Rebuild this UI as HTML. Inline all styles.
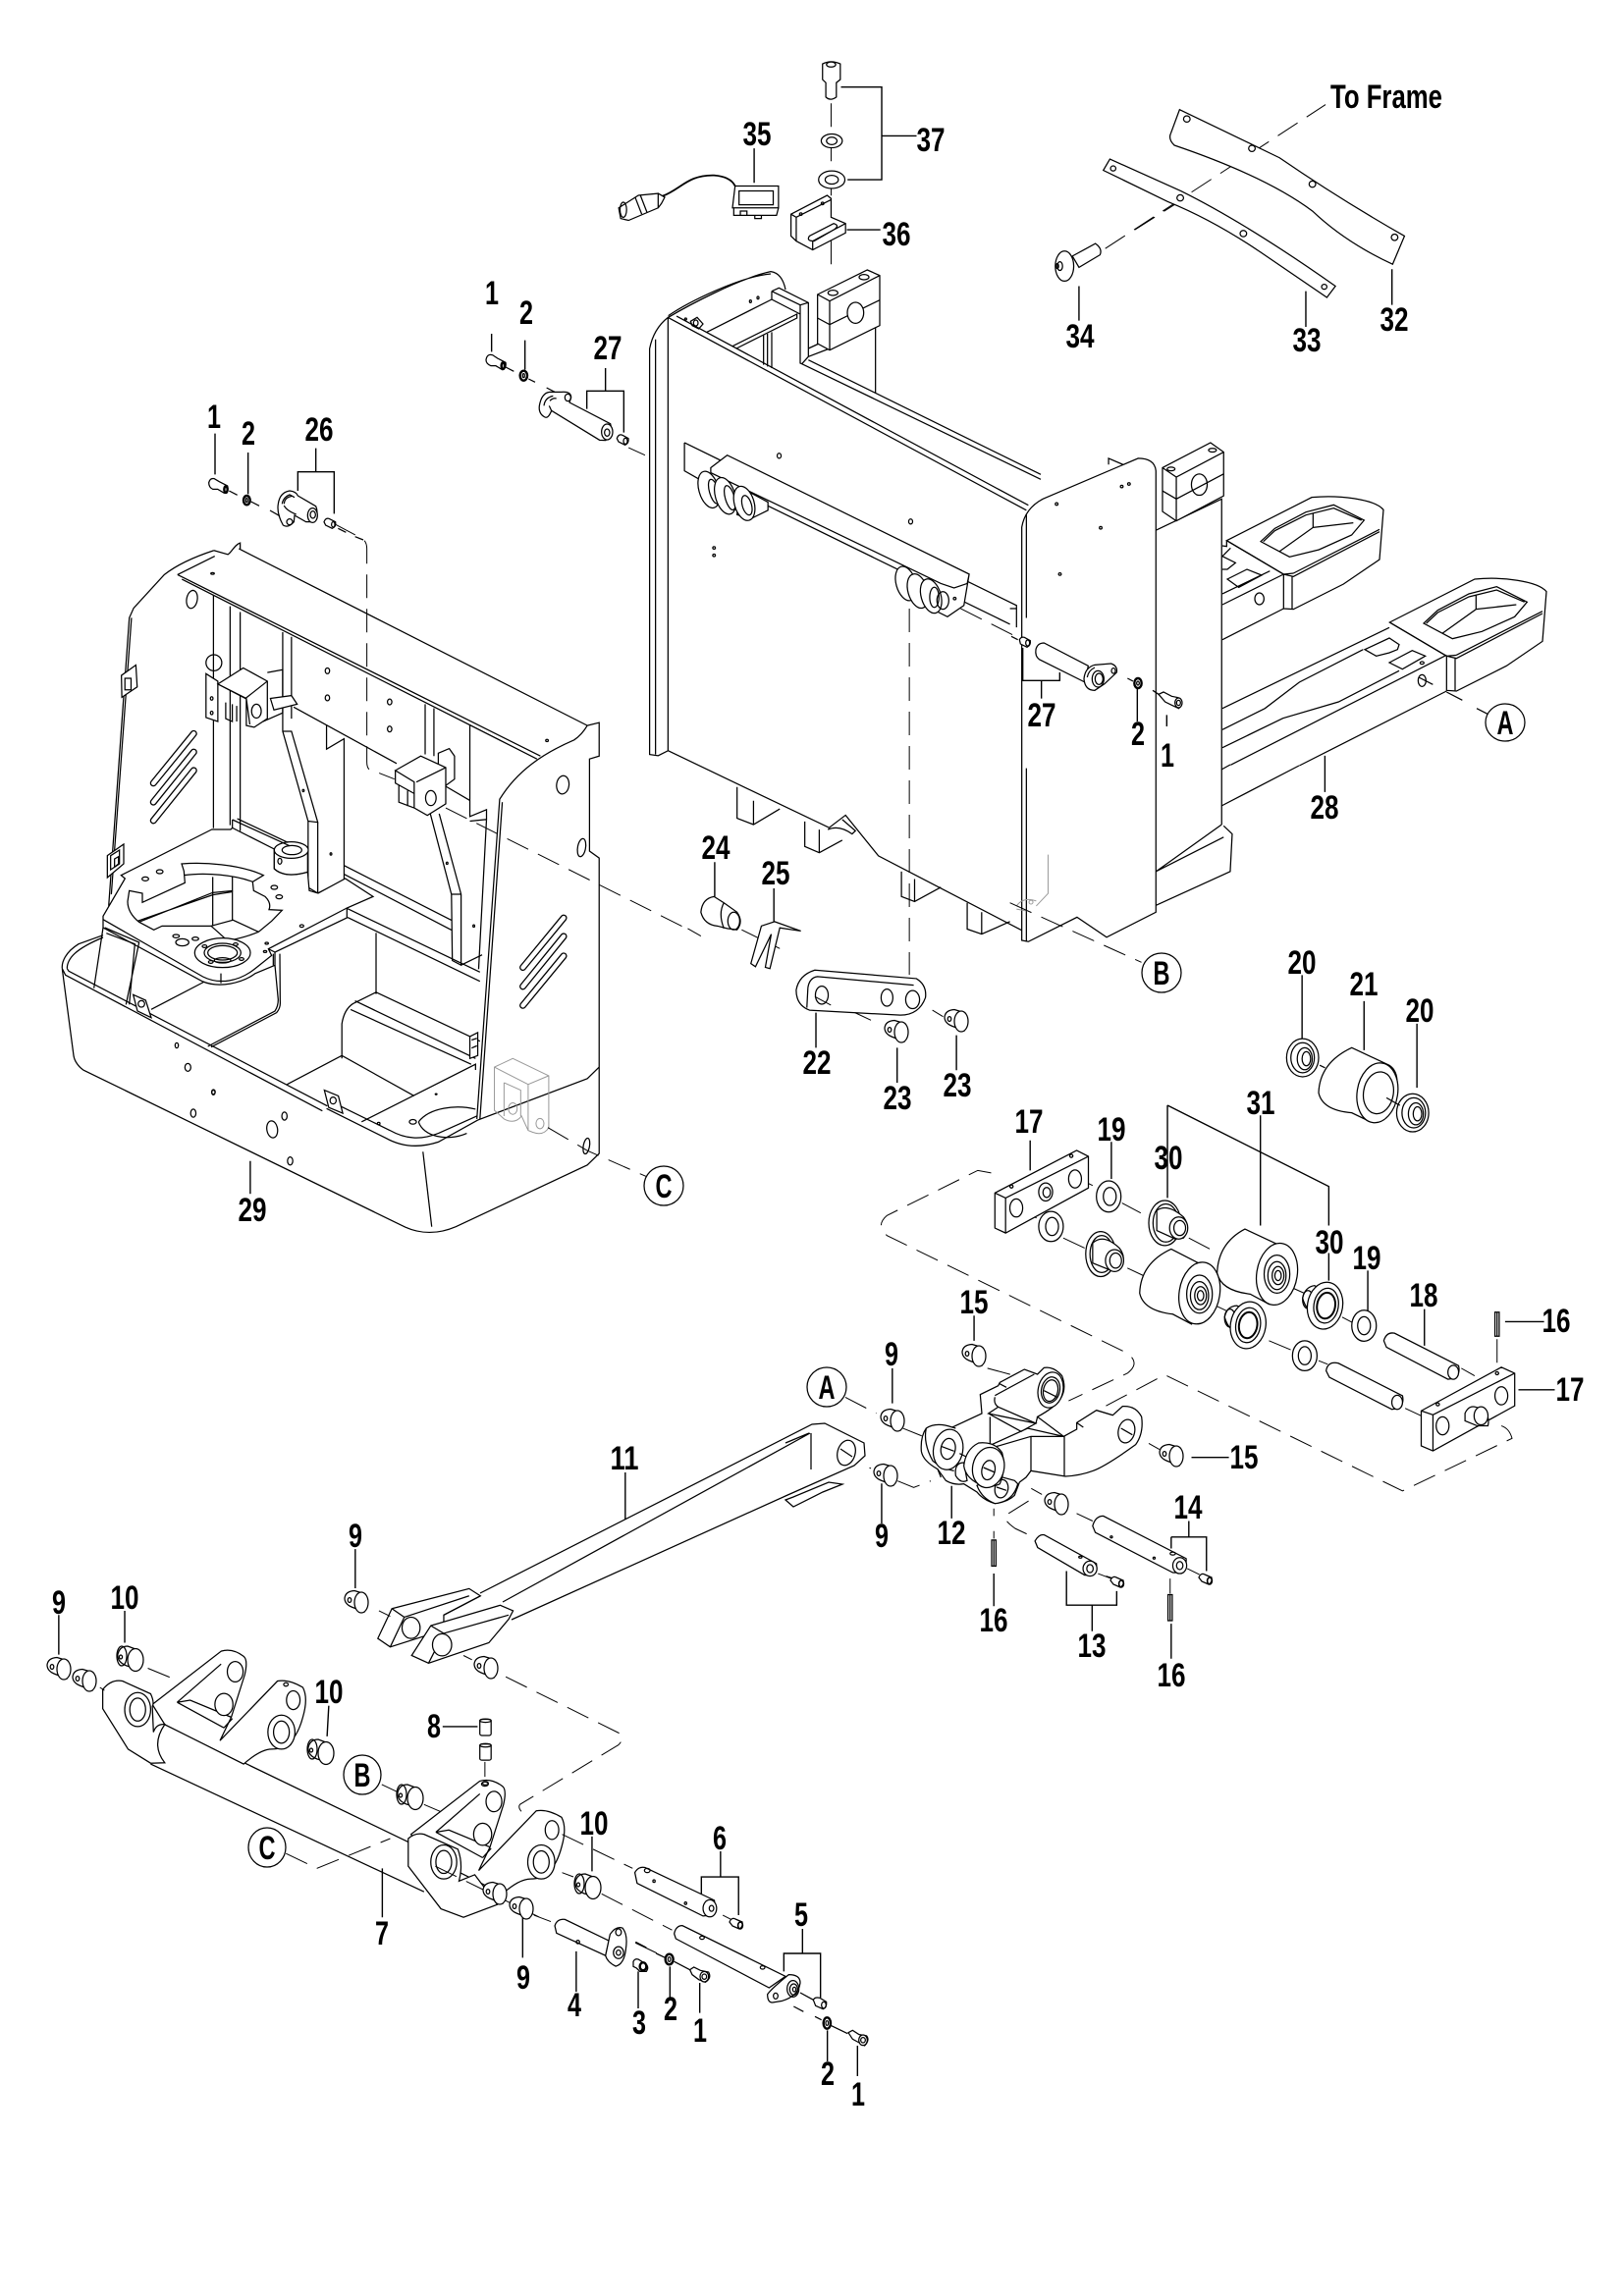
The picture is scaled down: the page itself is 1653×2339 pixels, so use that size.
<!DOCTYPE html>
<html><head><meta charset="utf-8"><title>Exploded parts diagram</title>
<style>
html,body{margin:0;padding:0;background:#fff}
svg{display:block}
svg *{vector-effect:non-scaling-stroke}
svg path,svg ellipse,svg line,svg rect{fill:none;stroke:#000;stroke-width:1.25}
svg .w{fill:#fff}
svg .d{stroke-dasharray:24 11;stroke-width:1}
svg .l{stroke-width:1.4}
svg .g{stroke:#999;stroke-width:1}
svg .t{stroke-width:2.4}
svg .s1{stroke:#000;stroke-width:7;stroke-linecap:round}
svg .s2{stroke:#fff;stroke-width:4.4;stroke-linecap:round}
text{font-family:"Liberation Sans Narrow","Liberation Sans",sans-serif;font-size:34px;font-weight:700;fill:#000;text-anchor:middle}
</style></head><body>
<svg xmlns="http://www.w3.org/2000/svg" width="1653" height="2339" viewBox="0 0 1653 2339">
<defs>
<g id="bush"><path class="w" d="M-2 -10.5 L8 -7.5 L8 11 L0 8 L-5 6 Q-12 3 -12 -3 Q-11 -10 -2 -10.5Z"/><ellipse class="w" cx="5" cy="1.5" rx="7" ry="10.5"/><ellipse cx="-7" cy="-1" rx="1.8" ry="2.4"/></g>
<g id="fbush"><path class="w" d="M-2 -12 L9 -8 L8 11 L-3 8 Q-13 4 -12 -4 Q-10 -12 -2 -12Z"/><ellipse cx="-8" cy="-2" rx="5" ry="10"/><ellipse class="w" cx="6" cy="2" rx="8" ry="11.5"/><ellipse cx="-9" cy="-1" rx="1.6" ry="2"/></g>
<g id="rscr"><path class="w" d="M-7 -2 Q-5 -7 -1 -5 L6 -2 Q7 3 3 5 L-4 2Z"/><ellipse cx="4" cy="1.5" rx="2.4" ry="3.4" style="stroke-width:1.6"/></g>
</defs>

<!-- Left frame upper/right -->
<g transform="translate(0,380) scale(.4464,.5868)">
<path d="M745 1277 L880 1328 C920 1345 960 1345 1000 1335 L1090 1297 L1340 1225 L1367 1205"/>
<path d="M745 1261 L890 1315 C925 1330 960 1332 1000 1320 L1088 1290"/>
<path d="M142 1035 L168 1185 C170 1195 180 1205 190 1210 L925 1483 C960 1495 1000 1495 1040 1482 L1340 1375 L1367 1355 L1367 1205"/>
<path d="M965 1352 L985 1482"/>
<path d="M405 350 L1233 665 M545 305 L1340 612 M405 350 L490 318 M415 358 L1225 670"/>
<path d="M488 308 L520 315 C530 310 535 298 548 295 L548 305 M488 308 C440 320 400 335 375 350 L305 408 L295 425 L248 925 M300 425 L254 905"/>
<path d="M1340 612 L1367 607 L1367 665 L1345 670 L1345 830 L1367 842 L1367 1205 M1340 612 C1330 625 1320 632 1310 637 C1240 660 1180 690 1140 740 L1088 1295 M1146 745 L1095 1295"/>
<path d="M487 385 L487 790 M525 405 L525 785 M548 415 L548 795"/>
<path d="M645 450 L645 622 L703 778 L703 893 L725 903 L785 880 L785 635 L745 653 L745 612 M665 458 L665 600 M645 622 L665 622 L725 780 L703 778 M725 780 L725 903"/>
<path d="M670 580 L905 678 M1000 710 L1072 742"/>
<path d="M970 575 L970 662 M990 582 L990 665 M1072 610 L1072 770 L1110 758 L1110 775 L1072 778 M1110 775 L1092 1035"/>
<path d="M980 760 L1030 905 L1032 1020 L1052 1028 L1052 905 L1002 765 M1030 905 L1052 905 M1052 1028 L1100 1010"/>
<path d="M785 855 L1030 950 M785 870 L1030 967 M793 930 L1095 1040 M793 945 L1095 1056 M858 972 L858 1078"/>
<path d="M655 1235 L780 1185 L945 1255 M825 1300 L1085 1200 L1085 1210 M1085 1190 L810 1090 M780 1190 L780 1130 Q785 1105 805 1095 L858 1075 L1095 1160 M800 1105 L1075 1200"/>
<path class="w" d="M740 1245 L772 1255 L782 1285 L750 1275Z"/><ellipse cx="760" cy="1263" rx="7" ry="6"/>
<path class="w" d="M1072 1152 L1090 1145 L1090 1185 L1072 1190Z"/><path d="M1076 1158 L1088 1155 M1076 1172 L1088 1168"/>
<path class="w" d="M277 525 L310 507 L313 545 L278 563Z"/><rect x="285" y="530" width="14" height="20"/>
<ellipse cx="438" cy="393" rx="12" ry="16" transform="rotate(20 438 393)"/><ellipse cx="488" cy="503" rx="18" ry="14"/><ellipse cx="485" cy="348" rx="4" ry="1.5"/>
<ellipse cx="1284" cy="715" rx="14" ry="16" transform="rotate(20 1284 715)"/><ellipse cx="1327" cy="824" rx="9" ry="16" transform="rotate(15 1327 824)"/><ellipse cx="1248" cy="638" rx="3" ry="2"/>
<ellipse cx="747" cy="517" rx="5" ry="5"/><ellipse cx="747" cy="564" rx="5" ry="5"/><ellipse cx="889" cy="571" rx="5" ry="5"/><ellipse cx="889" cy="618" rx="5" ry="5"/><ellipse cx="692" cy="725" rx="2" ry="2"/><ellipse cx="755" cy="835" rx="2" ry="2"/><ellipse cx="1020" cy="851" rx="2" ry="2"/><ellipse cx="1081" cy="960" rx="2" ry="2"/>
<line class="s1" x1="350" y1="712" x2="442" y2="626"/><line class="s2" x1="350" y1="712" x2="442" y2="626"/>
<line class="s1" x1="350" y1="745" x2="442" y2="658"/><line class="s2" x1="350" y1="745" x2="442" y2="658"/>
<line class="s1" x1="350" y1="777" x2="442" y2="690"/><line class="s2" x1="350" y1="777" x2="442" y2="690"/>
<line class="s1" x1="1193" y1="1032" x2="1286" y2="946"/><line class="s2" x1="1193" y1="1032" x2="1286" y2="946"/>
<line class="s1" x1="1193" y1="1065" x2="1286" y2="978"/><line class="s2" x1="1193" y1="1065" x2="1286" y2="978"/>
<line class="s1" x1="1193" y1="1098" x2="1286" y2="1012"/><line class="s2" x1="1193" y1="1098" x2="1286" y2="1012"/>
<path class="w" d="M470 522 L497 535 L497 605 L470 598Z"/><ellipse cx="483" cy="565" rx="3" ry="3"/><ellipse cx="483" cy="590" rx="3" ry="3"/>
<path class="w" d="M497 540 L555 512 L610 535 L610 600 L580 615 L562 612 L562 565Z"/><path d="M497 540 L560 565 L610 535 M562 565 L570 610 M515 572 L515 600 L530 605 L530 575 M540 578 L540 605 M610 520 L645 515 L645 590 L600 605"/><ellipse cx="585" cy="587" rx="11" ry="12"/>
<path class="w" d="M617 565 L665 560 L678 575 L625 585Z"/>
<path class="w" d="M1000 660 L1025 652 L1037 665 L1037 705 L1010 720 L1000 700Z"/>
<path class="w" d="M902 690 L960 665 L1017 685 L1017 748 L975 768 L945 755 L945 710Z"/><path d="M902 690 L902 712 L945 730 M950 710 L1017 685 M910 715 L910 745 L945 755 M930 725 L930 752"/><ellipse cx="983" cy="738" rx="12" ry="13"/>
<path class="g" d="M1128 1205 L1170 1190 L1252 1220 L1252 1310 Q1240 1325 1215 1318 L1205 1315 L1190 1290 Q1175 1305 1150 1295 L1128 1280Z M1128 1205 L1205 1235 L1252 1220 M1205 1235 L1205 1315 M1150 1232 L1188 1245 L1188 1290 M1150 1232 L1150 1290"/>
<ellipse class="g" cx="1170" cy="1277" rx="10" ry="10"/><ellipse class="g" cx="1232" cy="1303" rx="9" ry="9"/>
<ellipse cx="487" cy="1248" rx="4" ry="4"/><ellipse cx="441" cy="1285" rx="6" ry="7"/><ellipse cx="649" cy="1290" rx="6" ry="7"/><ellipse cx="621" cy="1313" rx="12" ry="15" transform="rotate(-20 621 1313)"/><ellipse cx="662" cy="1368" rx="6" ry="7"/><ellipse cx="1338" cy="1342" rx="7" ry="14" transform="rotate(15 1338 1342)"/>
<ellipse cx="942" cy="1300" rx="8" ry="4"/><path d="M955 1300 C980 1275 1040 1270 1085 1278 M955 1300 C965 1325 1020 1335 1065 1320"/><ellipse cx="995" cy="1252" rx="2" ry="1"/><ellipse cx="864" cy="1303" rx="3" ry="2"/>
<path class="l" d="M571 1368 L571 1425"/>
<path class="d" d="M763 262 L825 287 Q837 292 837 305 L837 675 Q837 690 850 690 L900 705 M1017 755 L1568 965"/>
<path class="d" d="M1250 1310 L1340 1350 L1475 1395"/>
</g>

<!-- Left frame floor plate -->
<g transform="translate(50,830) scale(.33333)">
<path d="M165 368 L90 395 C50 420 38 450 40 470 M55 470 C55 440 80 410 165 375 M55 470 L60 478 L850 890 M40 470 L50 490 L835 905"/>
<path class="w" d="M497 45 L220 185 L232 195 L165 310 L165 345 L470 510 C520 530 590 515 630 485 L690 460 L690 420 L910 315 L910 285 L990 250 L905 195 L822 240 L795 232 L790 175 Q720 195 688 165 L688 105 L560 40 L555 45Z"/>
<path d="M165 320 L470 495 C520 520 580 510 630 470 L680 430 L670 410 L910 285 M525 485 L525 515 M670 410 L690 420 M685 425 L685 460"/>
<path d="M405 150 C470 145 580 150 655 185 L622 205 L625 232 L660 250 Q680 270 672 290 L712 292 L680 325 L640 358 Q600 375 545 385 L520 362 L495 340 L345 340 L320 352 L275 328 Q240 300 240 265 L245 232 L285 240 L285 268 L415 208 L412 172Z"/>
<path d="M412 185 C480 175 570 185 622 205 M270 325 L500 245 L562 235 M275 328 L500 238 L562 232 M500 190 L500 340 M560 190 L560 322 M495 340 L562 322 L640 358"/>
<ellipse cx="294" cy="196" rx="10" ry="6"/><ellipse cx="338" cy="174" rx="10" ry="6"/><ellipse cx="688" cy="222" rx="10" ry="6"/><ellipse cx="703" cy="251" rx="10" ry="6"/><ellipse cx="772" cy="340" rx="6" ry="4"/><ellipse cx="665" cy="393" rx="5" ry="3"/><ellipse cx="660" cy="418" rx="5" ry="3"/><ellipse cx="388" cy="371" rx="10" ry="5"/><ellipse cx="447" cy="379" rx="10" ry="5"/><ellipse cx="407" cy="390" rx="20" ry="11"/>
<ellipse class="w" cx="530" cy="422" rx="85" ry="45"/><ellipse cx="530" cy="422" rx="56" ry="29"/><ellipse cx="530" cy="422" rx="45" ry="22"/><ellipse cx="530" cy="445" rx="25" ry="8"/><ellipse cx="475" cy="402" rx="7" ry="4"/><ellipse cx="570" cy="396" rx="7" ry="4"/><ellipse cx="588" cy="441" rx="7" ry="4"/><ellipse cx="494" cy="450" rx="7" ry="4"/>
<path class="w" d="M688 105 L688 165 Q720 195 790 175 L790 100Z"/><ellipse class="w" cx="740" cy="108" rx="52" ry="25"/><ellipse cx="742" cy="108" rx="30" ry="14"/><ellipse cx="705" cy="142" rx="6" ry="9"/>
<path d="M560 15 L735 95 M575 12 L730 85 M560 15 L560 40"/>
<path d="M165 345 L137 530 M170 345 L275 390 L235 580 M175 362 L262 395 L245 580"/>
<path class="w" d="M257 550 L295 567 L312 620 L270 600Z"/><ellipse cx="282" cy="578" rx="10" ry="10"/>
<path d="M312 595 L475 510 M485 708 L690 600 Q700 585 700 565 L690 460 M495 710 L695 605 Q708 590 706 570 L705 425"/>
<path class="w" d="M178 125 L228 90 L228 150 L178 192Z"/><path d="M188 125 L215 108 L215 150 L188 168Z M200 135 L212 128 L212 150 L200 160Z"/>
<ellipse cx="390" cy="705" rx="5" ry="8"/><ellipse cx="424" cy="772" rx="9" ry="12"/><ellipse cx="502" cy="849" rx="5" ry="7"/>
</g>

<!-- Pins and bolts upper left -->
<g transform="translate(190,350) scale(.33333)">
<path class="w" d="M68 425 Q72 410 85 413 L100 422 L125 435 Q130 450 115 457 L95 445 L80 445 Q68 440 68 425Z"/><ellipse cx="120" cy="446" rx="5" ry="10" class="t"/>
<ellipse class="w t" cx="184" cy="479" rx="10" ry="14"/><ellipse cx="184" cy="479" rx="3" ry="6"/>
<path class="w" d="M280 490 Q285 455 315 450 Q335 452 340 465 L395 497 Q405 520 390 545 L365 545 L330 525 L328 545 Q310 565 295 555 Q275 520 280 490Z"/>
<path d="M292 490 Q295 470 315 462 L330 470 M298 490 Q300 470 320 467 M298 495 Q305 510 335 522"/>
<ellipse class="w" cx="385" cy="525" rx="15" ry="22"/><ellipse cx="386" cy="523" rx="8" ry="11"/><ellipse cx="315" cy="545" rx="9" ry="9"/>
<path class="w" d="M420 545 Q425 532 435 535 L455 545 Q458 560 445 565 L425 555Z"/><ellipse cx="448" cy="553" rx="5" ry="8"/>
<path class="w" d="M1078 190 Q1085 150 1110 148 L1145 148 Q1175 145 1175 165 L1170 180 L1295 245 Q1305 280 1280 296 L1262 295 L1115 205 Q1105 230 1095 225 Q1075 215 1078 190Z"/>
<path d="M1092 190 Q1095 165 1120 160 M1110 175 Q1120 165 1130 168 M1108 190 L1115 205"/>
<ellipse class="w" cx="1285" cy="270" rx="17" ry="24"/><ellipse cx="1285" cy="272" rx="8" ry="11"/><ellipse class="w" cx="1165" cy="165" rx="9" ry="11"/>
<path class="w" d="M915 50 Q918 30 935 35 L950 45 L975 58 Q978 75 965 80 L945 68 L930 68 Q915 62 915 50Z"/><ellipse cx="967" cy="68" rx="5" ry="10" class="t"/>
<ellipse class="w t" cx="1030" cy="98" rx="11" ry="15"/><ellipse cx="1030" cy="98" rx="3" ry="6"/>
<path class="w" d="M1315 290 Q1320 275 1332 280 L1350 290 Q1352 305 1340 310 L1320 300Z"/><ellipse cx="1341" cy="298" rx="6" ry="9"/>
<path class="l" d="M87 275 L87 400 M188 333 L188 460 M395 320 L395 390 M340 450 L340 392 L451 392 L451 520 M1280 75 L1280 145 M1223 200 L1223 145 L1336 145 L1336 272 M932 -30 L932 25 M1034 -10 L1034 80"/>
<path d="M130 450 L155 463 M197 483 L222 496 M255 510 L285 527 M463 565 L487 577 M515 590 L540 600 M975 72 L1000 85 M1045 108 L1065 118 M1100 135 L1125 148"/>
</g>

<!-- Mast -->
<g transform="translate(600,30) scale(.6697,.6378)">
<path d="M225 1210 L225 1260 L250 1270 L290 1245 M250 1232 L250 1270 M328 1265 L328 1305 L350 1315 L385 1295 M350 1278 L350 1315 M475 1345 L475 1385 L495 1393 L535 1370 M495 1357 L495 1393 M575 1395 L575 1437 L597 1445 L640 1425 M597 1410 L597 1445"/>
<path d="M120 460 L665 768 M133 458 L668 760 M120 1152 L365 1275 L390 1255 L440 1320 L660 1440 M385 1262 L405 1280 L400 1285 Q380 1270 363 1278"/>
<path class="w" d="M120 460 Q98 478 92 510 L92 1158 L105 1160 L120 1152Z"/><path d="M101 495 L101 1158"/>
<path d="M862 800 L962 750 L962 1270 M862 1345 L965 1290 M965 1272 L978 1285 L975 1345 L860 1400 M962 1270 L862 1345"/>
<path d="M790 695 L790 685 L812 695"/>
<path class="w" d="M872 700 L945 660 L965 675 L965 745 L893 785 L872 770Z"/><path d="M872 700 L893 715 L965 675 M893 715 L893 785 M872 737 L893 750 L965 710"/><ellipse cx="928" cy="727" rx="12" ry="17"/><ellipse cx="885" cy="702" rx="6" ry="3"/><ellipse cx="948" cy="672" rx="6" ry="3"/>
<path d="M145 660 L650 920 L650 955 M270 760 L640 950 M145 660 L145 705 L170 720"/>
<path class="w" style="stroke:none" d="M185 700 L210 680 L578 870 L570 920 L545 938 L515 922 L490 895 L530 880Z"/>
<path d="M185 700 L210 680 L578 870 L575 885 L555 892 L535 885 L185 708Z M578 870 L570 920 L545 938 L520 925"/>
<ellipse class="w" cx="182" cy="735" rx="15" ry="30" transform="rotate(-15 182 735)"/><ellipse cx="190" cy="738" rx="7" ry="20" transform="rotate(-15 190 738)"/>
<ellipse class="w" cx="207" cy="745" rx="15" ry="30" transform="rotate(-15 207 745)"/><ellipse cx="214" cy="748" rx="7" ry="20" transform="rotate(-15 214 748)"/>
<path class="w" d="M228 730 L272 755 L272 768 L245 782 L225 775Z"/><ellipse class="w" cx="236" cy="757" rx="15" ry="28" transform="rotate(-15 236 757)"/><ellipse cx="240" cy="760" rx="7" ry="16" transform="rotate(-15 240 760)"/>
<ellipse class="w" cx="482" cy="885" rx="15" ry="28" transform="rotate(-15 482 885)"/><ellipse class="w" cx="500" cy="897" rx="15" ry="28" transform="rotate(-15 500 897)"/><ellipse class="w" cx="520" cy="905" rx="15" ry="28" transform="rotate(-15 520 905)"/><ellipse cx="525" cy="907" rx="7" ry="16"/><ellipse cx="538" cy="912" rx="9" ry="14"/><ellipse cx="556" cy="909" rx="2" ry="2"/>
<ellipse cx="289" cy="681" rx="3" ry="4"/><ellipse cx="489" cy="786" rx="3" ry="4"/><ellipse cx="190" cy="828" rx="2" ry="2"/><ellipse cx="190" cy="840" rx="2" ry="2"/>
<path class="w" d="M658 795 Q663 765 690 750 L835 685 Q860 685 862 705 L862 1410 L787 1450 L742 1418 L668 1457 L658 1455Z"/>
<path d="M665 775 L665 940 M665 1180 L665 1457"/>
<path class="g" d="M698 1318 L698 1380 L680 1400 M650 1400 Q660 1385 680 1392 M650 1405 L665 1408"/><ellipse class="g" cx="672" cy="1394" rx="3" ry="3"/>
<ellipse cx="711" cy="758" rx="2" ry="2"/><ellipse cx="810" cy="730" rx="2" ry="2"/><ellipse cx="821" cy="726" rx="2" ry="2"/><ellipse cx="778" cy="796" rx="2" ry="2"/><ellipse cx="716" cy="870" rx="2" ry="2"/>
<path d="M640 925 L650 925"/>
<path class="d" d="M60 668 L85 680 M565 925 L650 970 M487 925 L487 1510 M368 118 L368 385 M640 1395 L840 1490 M150 1436 L170 1448 M232 1438 L290 1468 M785 350 L1120 120"/>
<path class="w" d="M355 55 Q368 48 382 55 L382 80 L376 85 L376 108 Q367 115 360 108 L360 85 L355 80Z"/><ellipse cx="368" cy="56" rx="7" ry="4"/>
<ellipse class="w" cx="369" cy="178" rx="16" ry="11"/><ellipse cx="369" cy="178" rx="8" ry="6"/>
<ellipse class="w" cx="369" cy="240" rx="20" ry="14"/><ellipse cx="369" cy="240" rx="10" ry="7"/>
<path class="w" d="M307 295 L362 265 L368 270 L368 300 L390 310 L390 325 L340 352 L315 338 L307 330Z"/><path d="M315 338 L315 300 L307 295 M315 300 L368 272 M340 352 L340 338 L390 310 M335 330 L372 310 Q382 313 372 320 L342 338 Q330 338 335 330Z"/><ellipse cx="322" cy="295" rx="2" ry="2"/><ellipse cx="355" cy="278" rx="2" ry="2"/>
<path class="l" d="M383 92 L445 92 L445 240 L393 240 M445 170 L498 170 M392 320 L443 320 M251 245 L251 190"/>
<path class="w" d="M222 250 L288 250 L288 285 L218 285Z"/><rect x="228" y="258" width="52" height="22"/><path d="M220 285 L220 297 L285 297 L288 285 M230 297 L230 290 L240 290 L240 297 M252 297 L252 302 L262 302 L262 297"/>
<path class="w" d="M45 285 L75 265 L105 262 L105 285 L60 305 L48 302Z"/><path d="M70 268 L80 295 M78 265 L88 292 M105 262 L115 268 L110 278 L105 285"/><ellipse cx="52" cy="288" rx="5" ry="12"/>
<path style="stroke-width:1.8" d="M112 266 C140 255 150 232 190 233 Q215 235 222 250"/>
<path class="w" d="M898 128 L1050 205 Q1140 270 1240 330 L1222 375 Q1150 340 1100 290 Q1030 235 890 185 Q880 175 885 165Z"/>
<ellipse class="w" cx="909" cy="143" rx="5" ry="5"/><ellipse class="w" cx="1008" cy="190" rx="5" ry="5"/><ellipse cx="1100" cy="247" rx="5" ry="5"/><ellipse cx="1225" cy="332" rx="5" ry="5"/>
<path class="w" d="M792 207 L900 258 Q1000 310 1135 410 L1122 428 L1020 355 Q950 305 880 275 L782 225Z"/>
<ellipse cx="797" cy="222" rx="4" ry="4"/><ellipse cx="899" cy="269" rx="5" ry="5"/><ellipse cx="995" cy="326" rx="5" ry="5"/><ellipse cx="1118" cy="411" rx="4" ry="4"/>
<path class="d" d="M830 320 L890 280"/>
<path class="w" d="M735 362 L770 342 Q781 350 777 360 L745 380Z"/><ellipse class="w" cx="723" cy="378" rx="14" ry="24"/><ellipse cx="716" cy="378" rx="4" ry="7"/><ellipse cx="712" cy="378" rx="2" ry="4"/>
<path class="l" d="M745 410 L745 465 M1090 418 L1090 475 M1221 383 L1221 440 M1119 1160 L1119 1218 M191 1330 L191 1385 M281 1372 L281 1425"/>
<path class="w" d="M170 1410 Q172 1388 190 1385 L205 1395 L225 1410 Q235 1425 225 1438 L210 1436 L195 1432 Q175 1430 170 1410Z"/><ellipse cx="220" cy="1424" rx="9" ry="14"/><path d="M205 1395 Q196 1412 205 1436"/>
<path class="w" d="M282 1425 L322 1440 L290 1435 L275 1500 L268 1498 L277 1445 L253 1497 L246 1492 L262 1432Z"/>
</g>

<!-- Mast top left -->
<g transform="translate(660,240) scale(.33333)">
<path d="M62 250 C120 215 280 130 375 110 Q410 115 420 165 M62 245 C120 205 280 125 375 117"/>
<path d="M378 170 L400 160 L490 205 L490 370 L470 392 M378 170 L465 212 L490 205 M465 212 L465 390 L470 392 L1200 745 M378 170 L378 195 L465 240 M180 295 L378 195 M258 338 L455 240 L455 252 L270 345 M353 305 L353 395 M365 300 L365 400 M378 295 L378 405 M490 380 L1200 730 M490 345 L555 315 M490 370 L555 345 M695 280 L695 480"/>
<path class="w" d="M518 180 L670 105 L708 122 L708 275 L555 350 L518 330Z"/><path d="M518 180 L555 200 L708 122 M555 200 L555 350 M518 252 L555 272 L708 197"/><ellipse class="w" cx="634" cy="236" rx="25" ry="32"/><ellipse cx="565" cy="175" rx="15" ry="8"/><ellipse cx="660" cy="127" rx="15" ry="8"/>
<path d="M130 262 L150 250 L168 270 L155 285 L135 275Z"/><ellipse cx="146" cy="267" rx="7" ry="9"/><ellipse cx="115" cy="255" rx="3" ry="3"/><ellipse cx="313" cy="201" rx="3" ry="4"/><ellipse cx="336" cy="190" rx="3" ry="4"/>
</g>

<!-- Forks -->
<g transform="translate(1230,480) scale(.33333)">
<path class="w" d="M58 212 L318 80 C400 72 510 85 537 118 L525 270 L415 345 L262 422 L232 420 L232 315Z"/>
<path d="M58 212 L232 315 L262 322 L525 185 M262 312 L525 178 M232 315 L262 312 M258 322 L258 420"/>
<path d="M162 215 L205 175 L300 125 L385 103 L478 150 L440 195 L340 240 L250 262Z M170 215 L205 182 L300 134 L385 113 L470 150 M322 128 L322 172 L220 245 M322 172 L445 158"/>
<path d="M58 212 L58 230 L45 228 M70 235 L45 260 L85 280 L60 300 L45 300 M60 330 L120 300 L165 318 L95 355Z M45 375 L190 305 M45 408 L232 315 M45 515 L232 420"/>
<ellipse cx="158" cy="390" rx="14" ry="18"/>
<path class="w" d="M556 462 L816 330 C898 322 1008 335 1035 368 L1023 520 L913 595 L760 672 L730 670 L730 565Z"/>
<path d="M556 462 L730 565 L760 572 L1023 435 M760 562 L1023 428 M730 565 L760 562 M756 572 L756 670"/>
<path d="M660 465 L703 425 L798 375 L883 353 L976 400 L938 445 L838 490 L748 512Z M668 465 L703 432 L798 384 L883 363 L968 400 M820 378 L820 422 L718 495 M820 422 L943 408"/>
<path d="M45 725 L555 478 M45 790 L175 725 L280 645 L475 545 M45 845 L230 755 L400 705 L585 610 M70 898 L730 562 M280 900 L730 672"/>
<path d="M480 545 L555 510 L585 530 L580 545 L555 555 L515 565Z M555 585 L625 548 L665 565 L595 605Z"/>
<ellipse cx="655" cy="640" rx="12" ry="18"/><ellipse cx="655" cy="586" rx="6" ry="4"/><path d="M645 630 L688 652"/>
<path d="M730 675 L778 700 M822 725 L855 742"/>
</g>
<path d="M1323 780 L1244 821 M1253 779 L1244 784"/>

<!-- Pin 27 right, bolt -->
<g transform="translate(1030,620) scale(.33333)">
<path class="w" d="M75 125 Q80 105 100 105 L235 175 L225 225 L85 155 Q72 145 75 125Z"/>
<path class="w" d="M222 215 Q225 180 255 172 L305 168 Q325 175 322 195 L285 230 L255 250 Q225 250 222 215Z"/>
<path d="M232 210 Q235 190 255 180"/>
<ellipse cx="265" cy="215" rx="18" ry="25"/><ellipse cx="268" cy="215" rx="12" ry="17"/><ellipse cx="312" cy="190" rx="6" ry="8"/>
<path class="w" d="M25 95 Q30 85 40 88 L58 98 Q60 112 48 118 L28 108Z"/><ellipse cx="50" cy="105" rx="6" ry="9"/>
<path d="M0 85 L20 95 M355 213 L372 222 M432 250 L450 262"/>
<path class="l" d="M35 120 L35 220 L148 220 L148 195 M92 220 L92 275 M385 245 L385 345 M475 325 L475 360"/>
<ellipse class="w t" cx="387" cy="228" rx="11" ry="15"/><ellipse cx="387" cy="228" rx="4" ry="6"/>
<path class="w" d="M450 262 L465 255 L490 268 L510 272 Q525 285 512 305 L490 295 L470 285Z"/><ellipse class="w" cx="511" cy="288" rx="11" ry="15"/><ellipse cx="511" cy="288" rx="6" ry="8"/>
</g>

<!-- Rollers and link -->
<g transform="translate(800,950) scale(.5441,.5102)">
<path class="w" d="M20 115 Q25 85 55 75 L245 92 Q265 105 262 130 Q250 165 215 165 L45 155 Q20 145 20 115Z"/><path d="M42 110 Q45 90 60 88 L240 105 M42 110 L40 150"/>
<ellipse class="w" cx="68" cy="125" rx="12" ry="18"/><ellipse class="w" cx="190" cy="130" rx="11" ry="17"/><ellipse class="w" cx="238" cy="134" rx="13" ry="18"/>
<path class="d" d="M55 128 L85 145 M130 160 L160 175 M275 155 L295 168"/>
<path class="l" d="M57 160 L57 230 M209 230 L209 300 M320 205 L320 275"/>
<path class="l" d="M967 85 L967 212 M1083 137 L1083 235 M1182 182 L1182 310 M889 365 L889 585 M715 345 L715 530 M715 345 L1017 507 L1017 585 M1017 640 L1017 695 M458 415 L458 475 M610 418 L610 492 M1090 675 L1090 755 M1196 752 L1196 825 M1420 777 L1347 777 M1372 913 L1440 913 M353 765 L353 815 M200 870 L200 940 M760 1048 L830 1048 M180 1100 L180 1180 M311 1105 L311 1170 M755 1175 L755 1207 M722 1207 L788 1207 L788 1275 M722 1207 L722 1230 M526 1275 L526 1343 L620 1343 L620 1315 M574 1343 L574 1395 M390 1280 L390 1345 M722 1380 L722 1450"/>
<ellipse class="w" cx="968" cy="250" rx="30" ry="38"/><ellipse cx="968" cy="250" rx="22" ry="30"/><ellipse cx="972" cy="252" rx="14" ry="22"/><ellipse cx="975" cy="252" rx="8" ry="14"/>
<path class="w" d="M1060 230 Q1000 260 998 320 Q1005 355 1060 360 L1095 378 L1145 300 Q1145 275 1130 265Z"/><ellipse class="w" cx="1108" cy="320" rx="38" ry="60" transform="rotate(8 1108 320)"/><ellipse cx="1110" cy="320" rx="28" ry="42" transform="rotate(8 1110 320)"/>
<ellipse class="w" cx="1174" cy="360" rx="30" ry="38"/><ellipse cx="1176" cy="360" rx="22" ry="30"/><ellipse cx="1180" cy="362" rx="14" ry="22"/><ellipse cx="1183" cy="362" rx="8" ry="14"/>
<path d="M1000 265 L1010 270 M1125 330 L1150 345"/>
<path class="d" d="M555 495 L575 505 M630 540 L665 560 M755 610 L800 635 M440 555 L470 570 M520 610 L560 630 M640 670 L670 685 M950 710 L975 722 M1042 768 L1060 778 M805 745 L825 755 M905 815 L950 835 M998 855 L1015 862 M1265 870 L1290 885 M1160 950 L1190 965 M1332 812 L1332 862"/>
<path class="d" d="M385 480 L360 475 L190 565 Q168 585 190 605 L640 840 Q665 860 640 880 L530 935 M600 945 L710 883 L1155 1115 L1360 1010 Q1355 990 1340 985 M112 928 L170 960 M220 990 L255 1005 M150 1065 L160 1070 M210 1095 L240 1108 L272 1095 M455 1135 L410 1165 Q410 1175 430 1190 L470 1210 M545 1160 L575 1175 M460 1110 L480 1122 M680 1020 L700 1032 M378 870 L430 885 M390 1150 L390 1165 M390 1195 L390 1210 M720 1290 L720 1320 M600 1285 L615 1290"/>
<path class="w" d="M392 520 L545 435 L567 447 L567 510 L412 600 L392 590Z"/><path d="M392 520 L412 530 L567 447 M412 530 L412 600"/><ellipse class="w" cx="432" cy="550" rx="12" ry="18"/><ellipse class="w" cx="487" cy="518" rx="13" ry="18"/><ellipse cx="489" cy="519" rx="7" ry="10"/><ellipse class="w" cx="542" cy="492" rx="12" ry="18"/><ellipse cx="423" cy="507" rx="3" ry="3"/><ellipse cx="535" cy="446" rx="3" ry="3"/>
<ellipse class="w" cx="605" cy="527" rx="23" ry="31"/><ellipse class="w" cx="607" cy="527" rx="12" ry="18"/>
<ellipse class="w" cx="497" cy="587" rx="23" ry="30"/><ellipse class="w" cx="499" cy="587" rx="12" ry="18"/>
<ellipse class="w" cx="1083" cy="785" rx="23" ry="31"/><ellipse class="w" cx="1083" cy="785" rx="12" ry="18"/>
<ellipse class="w" cx="972" cy="845" rx="23" ry="30"/><ellipse class="w" cx="972" cy="845" rx="12" ry="18"/>
<ellipse class="w" cx="710" cy="580" rx="30" ry="45"/><ellipse cx="712" cy="580" rx="24" ry="38"/>
<path class="w" d="M695 555 Q715 540 745 568 Q760 590 745 610 L730 612 L695 595Z"/><ellipse class="w" cx="736" cy="590" rx="17" ry="22"/><ellipse cx="738" cy="590" rx="11" ry="15"/>
<ellipse class="w" cx="590" cy="642" rx="28" ry="45"/><ellipse cx="592" cy="642" rx="22" ry="37"/>
<path class="w" d="M575 620 Q595 600 625 630 Q640 650 625 672 L610 675 L575 660Z"/><ellipse class="w" cx="616" cy="655" rx="17" ry="22"/><ellipse cx="618" cy="655" rx="11" ry="15"/>
<path class="w" d="M860 592 Q810 620 808 680 Q815 715 870 722 L905 742 L955 660 Q955 640 940 632Z"/><ellipse class="w" cx="920" cy="682" rx="38" ry="62" transform="rotate(8 920 682)"/><ellipse cx="920" cy="682" rx="24" ry="38"/><ellipse cx="920" cy="685" rx="17" ry="28"/><ellipse cx="922" cy="685" rx="11" ry="18"/><ellipse cx="922" cy="685" rx="6" ry="10"/>
<path class="w" d="M722 632 Q665 660 663 720 Q670 755 725 762 L760 782 L812 700 Q812 680 795 672Z"/><ellipse class="w" cx="775" cy="720" rx="38" ry="62" transform="rotate(8 775 720)"/><ellipse cx="775" cy="722" rx="24" ry="38"/><ellipse cx="775" cy="725" rx="17" ry="28"/><ellipse cx="777" cy="725" rx="11" ry="18"/><ellipse cx="777" cy="725" rx="6" ry="10"/>
<path class="w" d="M968 730 Q972 708 990 705 L1010 715 L1000 760 Q975 760 968 730Z"/><ellipse cx="978" cy="733" rx="10" ry="18"/>
<ellipse class="w" cx="1010" cy="745" rx="33" ry="47" transform="rotate(8 1010 745)"/><ellipse cx="1012" cy="745" rx="23" ry="35" transform="rotate(8 1012 745)"/><ellipse class="w" cx="1012" cy="745" rx="17" ry="26" transform="rotate(8 1012 745)" style="stroke-width:2"/>
<path class="w" d="M822 768 Q826 746 845 745 L865 755 L852 800 Q830 798 822 768Z"/><ellipse cx="832" cy="770" rx="10" ry="18"/>
<ellipse class="w" cx="866" cy="784" rx="33" ry="47" transform="rotate(8 866 784)"/><ellipse cx="866" cy="784" rx="23" ry="35" transform="rotate(8 866 784)"/><ellipse class="w" cx="866" cy="784" rx="17" ry="26" transform="rotate(8 866 784)" style="stroke-width:2"/>
<path class="w" d="M1120 815 Q1125 797 1140 800 L1260 865 Q1265 890 1240 892 L1125 828Z"/><ellipse class="w" cx="1250" cy="878" rx="10" ry="14"/>
<path class="w" d="M1012 875 Q1015 855 1035 860 L1155 925 Q1160 950 1135 952 L1018 888Z"/><ellipse class="w" cx="1145" cy="938" rx="10" ry="14"/>
<path class="w" d="M1190 955 L1340 868 L1365 880 L1365 945 L1212 1035 L1190 1025Z"/><path d="M1190 955 L1212 963 L1365 880 M1212 963 L1212 1035"/><ellipse class="w" cx="1230" cy="985" rx="12" ry="18"/><ellipse class="w" cx="1340" cy="925" rx="12" ry="18"/><ellipse cx="1221" cy="942" rx="3" ry="3"/><ellipse cx="1332" cy="880" rx="3" ry="3"/>
<path class="w" d="M1272 960 Q1280 940 1298 950 Q1320 960 1315 985 L1295 985 L1272 975Z"/><ellipse class="w" cx="1302" cy="965" rx="13" ry="18"/>
<rect class="w" x="1328" y="758" width="8" height="48"/><line x1="1332" y1="758" x2="1332" y2="806"/>
<rect class="w" x="386" y="1213" width="8" height="52"/><line x1="390" y1="1213" x2="390" y2="1265"/>
<rect class="w" x="716" y="1322" width="8" height="52"/><line x1="720" y1="1322" x2="720" y2="1374"/>
<path class="w" d="M575 1185 Q580 1165 595 1165 L750 1250 Q752 1280 725 1278 L580 1198Z"/><ellipse class="w" cx="738" cy="1264" rx="13" ry="16"/><ellipse cx="738" cy="1264" rx="6" ry="8"/><ellipse cx="725" cy="1240" rx="5" ry="3"/><ellipse cx="690" cy="1249" rx="2" ry="2"/><ellipse cx="610" cy="1207" rx="2" ry="2"/>
<path class="w" d="M467 1215 Q475 1200 485 1203 L582 1260 Q585 1285 560 1283 L472 1228Z"/><ellipse class="w" cx="570" cy="1270" rx="13" ry="15"/><ellipse cx="570" cy="1270" rx="6" ry="8"/><ellipse cx="552" cy="1247" rx="3" ry="2"/>
<path class="d" d="M585 1280 L610 1290 M752 1270 L775 1282"/>
</g>
<use href="#rscr" x="1138" y="1612"/><use href="#rscr" x="1228" y="1609"/>
<use href="#bush" x="974" y="1039"/><use href="#bush" x="913" y="1050"/><use href="#bush" x="992" y="1380"/><use href="#bush" x="909" y="1446"/><use href="#bush" x="902" y="1502"/><use href="#bush" x="1193" y="1482"/><use href="#bush" x="1076" y="1531"/>

<!-- Yoke 12 -->
<g transform="translate(900,1380) scale(.33333)">
<path class="w" d="M130 225 Q160 205 210 222 L300 180 L295 122 L350 95 L355 85 L430 45 L470 60 L490 40 Q520 35 545 65 Q560 105 540 135 Q525 160 470 190 L550 250 L590 228 L590 208 L650 170 L700 185 L730 158 Q770 155 788 190 Q795 240 770 275 Q680 340 640 355 Q600 370 555 372 L450 355 L435 375 L415 390 L400 430 Q380 450 340 455 Q305 445 285 420 L245 395 Q215 400 190 385 L165 350 Q120 325 115 295 Q112 250 130 225Z"/>
<path d="M130 225 Q120 270 150 325 M150 325 Q180 350 215 355 M165 350 L175 375 M220 225 L210 222"/>
<ellipse class="w" cx="197" cy="290" rx="45" ry="62" transform="rotate(10 197 290)"/><ellipse class="w" cx="197" cy="288" rx="22" ry="32" transform="rotate(10 197 288)"/>
<path d="M340 130 Q335 150 350 160 L465 210 L470 190 M340 125 L460 60 M350 160 L320 180 L465 210 L420 235 L320 180 M325 190 L325 275 M330 275 L440 225 L550 250 M330 285 L450 250 L552 250 M450 250 L450 355 M552 250 L552 372 M352 88 L375 100 M590 208 L610 222 M650 170 L700 185"/>
<ellipse class="w" cx="510" cy="108" rx="38" ry="55" transform="rotate(12 510 108)"/><ellipse cx="510" cy="108" rx="28" ry="40" transform="rotate(12 510 108)"/><ellipse class="w" cx="510" cy="110" rx="22" ry="33" transform="rotate(12 510 110)"/>
<ellipse class="w" cx="742" cy="234" rx="25" ry="36" transform="rotate(12 742 234)"/>
<path class="w" d="M245 330 Q215 330 220 370 Q235 395 255 385Z"/>
<path class="w" d="M285 400 Q300 440 340 455 Q395 450 410 395 L400 385 L345 370Z"/><ellipse class="w" cx="360" cy="410" rx="20" ry="28" transform="rotate(12 360 410)"/>
<path class="w" d="M245 340 Q250 290 290 270 Q340 265 362 300 Q375 345 355 395 Q325 410 290 395 Q250 375 245 340Z"/><ellipse class="w" cx="320" cy="345" rx="48" ry="62" transform="rotate(12 320 345)"/><ellipse class="w" cx="320" cy="353" rx="20" ry="30" transform="rotate(12 320 353)"/>
<path d="M175 280 L215 295 M232 302 L252 312 M305 345 L340 360 M725 225 L760 245 M490 110 L530 130 M345 405 L375 415"/>
</g>

<!-- Arm 11 -->
<path class="w" style="stroke:none" d="M489 1623 L827 1451 L842 1451 L884 1472 L890 1490 L871 1512 L800 1528 L521 1650Z"/>
<path d="M489 1623 L827 1451 L840 1450 L880 1470 L881 1483 L870 1493 L800 1524 L521 1650 M512 1632 L825 1460 M826 1460 L826 1497 M824 1460 L800 1470"/>
<path d="M800 1528 L808 1535 L838 1520 L858 1512 L844 1510 L808 1525Z"/>
<ellipse cx="862" cy="1480" rx="9" ry="13" transform="rotate(15 862 1480)"/>
<path d="M856 1476 L868 1484"/>

<!-- Lift arm -->
<g transform="translate(30,1500) scale(.5741,.4337)">
<path class="w" d="M643 320 L780 273 L800 290 L735 335 L735 370 L640 410 L618 390Z"/><path d="M643 320 L665 340 L640 410 M665 340 L780 290"/><ellipse class="w" cx="677" cy="365" rx="16" ry="25"/>
<path class="w" d="M712 360 L835 312 L858 325 L850 345 L815 400 L708 448 L678 430Z"/><path d="M712 360 L735 378 L708 448 M735 378 L850 335 M735 335 L800 290"/><ellipse class="w" cx="732" cy="405" rx="17" ry="26"/>
<path d="M240 592 L675 870 M215 685 L700 985"/>
<path class="w" d="M218 545 L340 420 Q360 412 380 432 Q388 440 382 475 L358 575 L338 630 L440 490 Q460 485 485 505 Q495 530 485 575 Q470 650 430 650 Q410 650 380 685 L240 592Z"/>
<path d="M262 540 L340 450 M262 540 L345 600 M262 540 L285 535 L358 575 M345 600 L360 578"/>
<ellipse class="w" cx="365" cy="468" rx="14" ry="24"/><ellipse class="w" cx="345" cy="545" rx="16" ry="26"/><ellipse class="w" cx="468" cy="535" rx="12" ry="22"/><ellipse cx="455" cy="498" rx="4" ry="4"/>
<ellipse class="w" cx="447" cy="610" rx="24" ry="40"/><ellipse class="w" cx="447" cy="610" rx="14" ry="26"/>
<path class="w" d="M130 510 Q145 485 165 490 L215 520 Q222 540 218 550 L220 610 Q225 590 240 592 Q215 640 240 682 L215 683 L175 650 L130 555Z"/>
<ellipse class="w" cx="192" cy="557" rx="23" ry="40"/><ellipse class="w" cx="192" cy="557" rx="14" ry="27"/>
<g transform="translate(459,305)"><path class="w" d="M218 545 L340 420 Q360 412 380 432 Q388 440 382 475 L358 575 L338 630 L440 490 Q460 485 485 505 Q495 530 485 575 Q470 650 430 650 Q410 650 380 685 L240 592Z"/>
<path d="M262 540 L340 450 M262 540 L345 600 M262 540 L285 535 L358 575 M345 600 L360 578"/>
<ellipse class="w" cx="365" cy="468" rx="14" ry="24"/><ellipse class="w" cx="345" cy="545" rx="16" ry="26"/><ellipse class="w" cx="468" cy="535" rx="12" ry="22"/><ellipse cx="350" cy="425" rx="5" ry="4"/>
<ellipse class="w" cx="449" cy="610" rx="24" ry="40"/><ellipse class="w" cx="449" cy="610" rx="14" ry="26"/></g>
<path class="w" d="M672 860 Q685 845 700 850 L760 885 Q770 920 762 960 L790 945 L830 1015 L770 1045 L730 1025 L672 925Z"/>
<ellipse class="w" cx="735" cy="915" rx="23" ry="40"/><ellipse class="w" cx="735" cy="915" rx="14" ry="27"/>
<path class="d" d="M455 895 L510 930 L640 860 M625 733 L660 755 M700 780 L730 797 M845 480 L1050 615 Q1056 625 1045 640 L870 780 Q865 790 880 805 M125 505 L133 512 M210 460 L265 490 M945 850 L1070 930 M945 940 L965 950 M1015 990 L1140 1075 M720 925 L905 1045 M1075 1105 L1130 1140 M808 680 L808 715 M620 325 L640 338 M770 430 L785 440 M895 1040 L925 1055 M1230 1040 L1245 1050"/>
<path class="l" d="M578 180 L578 272 M52 335 L52 428 M169 325 L169 400 M531 548 L528 620 M733 597 L795 597 M998 855 L998 937 M1226 890 L1226 950 M1192 1000 L1192 950 L1258 950 L1258 1040 M626 930 L626 1045 M875 1045 L875 1140 M970 1125 L970 1220 M1057 0 L1057 110"/>
<rect class="w" x="799" y="580" width="20" height="38" rx="4"/><ellipse cx="809" cy="583" rx="10" ry="4"/>
<rect class="w" x="799" y="638" width="20" height="38" rx="4"/><ellipse cx="809" cy="641" rx="10" ry="4"/>
<ellipse cx="808" cy="732" rx="6" ry="5"/>
<path class="w" d="M1074 940 Q1080 925 1092 928 L1215 1005 Q1220 1040 1195 1042 L1078 965Z"/><ellipse class="w" cx="1207" cy="1024" rx="12" ry="20"/><ellipse cx="1210" cy="1024" rx="4" ry="7"/><ellipse cx="1096" cy="935" rx="5" ry="5"/><ellipse cx="1108" cy="960" rx="2" ry="3"/><ellipse cx="1164" cy="1012" rx="2" ry="3"/>
<path class="w" d="M932 1065 Q936 1048 950 1050 L1028 1100 L1022 1135 L935 1082Z"/><ellipse cx="973" cy="1103" rx="3" ry="4"/>
<path class="w" d="M1030 1085 Q1040 1065 1052 1070 Q1062 1085 1058 1120 Q1055 1155 1040 1160 Q1025 1150 1022 1135Z"/><ellipse cx="1045" cy="1080" rx="5" ry="8"/><ellipse cx="1045" cy="1128" rx="9" ry="14"/><ellipse cx="1045" cy="1128" rx="4" ry="6"/>
</g>
<use href="#bush" x="363" y="1631"/><use href="#bush" x="495" y="1698"/><use href="#bush" x="60" y="1699"/><use href="#bush" x="86" y="1711"/><use href="#bush" x="504" y="1928"/><use href="#bush" x="531" y="1943"/>
<use href="#fbush" x="132" y="1689"/><use href="#fbush" x="326" y="1784"/><use href="#fbush" x="417" y="1830"/><use href="#fbush" x="598" y="1921"/>
<use href="#rscr" x="750" y="1960"/>

<!-- Pin 5 and lower right bolts -->
<g transform="translate(640,1960) scale(.33333)">
<path class="w" d="M140 30 Q145 5 165 5 L480 160 L430 195 L145 45Z"/><ellipse cx="225" cy="42" rx="7" ry="5"/><ellipse cx="410" cy="133" rx="7" ry="5"/>
<path class="w" d="M425 215 Q440 195 490 155 Q525 155 525 180 Q520 220 470 235 L440 240 Q425 240 425 215Z"/><ellipse cx="503" cy="198" rx="18" ry="25"/><ellipse cx="505" cy="200" rx="12" ry="17"/><ellipse cx="507" cy="200" rx="5" ry="7"/><ellipse cx="450" cy="220" rx="7" ry="9"/>
<path class="l" d="M475 145 L475 90 L587 90 L587 225 M532 15 L532 90 M608 325 L608 420 M700 372 L700 465 M30 145 L30 258 M127 130 L127 228 M218 180 L218 272"/>
<path class="w" d="M565 232 Q570 222 585 226 L605 238 Q607 255 595 260 L572 250Z"/><ellipse cx="597" cy="248" rx="7" ry="10"/>
<path d="M525 210 L565 232 M505 252 L535 268 M570 283 L590 293 M618 310 L670 335 M140 115 L188 140 M85 90 L112 103 M22 55 L55 72"/>
<ellipse class="w t" cx="607" cy="303" rx="11" ry="17"/><ellipse cx="607" cy="303" rx="4" ry="7"/>
<path class="w" d="M672 332 L685 325 L705 338 L728 342 Q738 355 722 372 L700 360 L685 352Z"/><ellipse class="w" cx="717" cy="355" rx="13" ry="16"/><ellipse cx="717" cy="355" rx="7" ry="8"/>
<ellipse class="w t" cx="125" cy="108" rx="12" ry="16"/><ellipse cx="125" cy="108" rx="4" ry="7"/>
<path class="w" d="M188 140 L200 132 L220 142 L245 147 Q255 165 235 178 L215 170 L195 155Z"/><ellipse class="w" cx="232" cy="161" rx="13" ry="16"/><ellipse cx="232" cy="161" rx="7" ry="8"/>
<path class="w" d="M15 115 Q20 105 30 108 L50 120 Q65 130 55 145 L35 145 L25 135 L15 130Z"/><ellipse cx="45" cy="130" rx="10" ry="12" class="t"/>
</g>

<!-- Callouts -->
<ellipse class="w" cx="676" cy="1208" rx="20" ry="20"/><ellipse class="w" cx="1533" cy="736" rx="20" ry="19"/><ellipse class="w" cx="1183" cy="991" rx="20" ry="20"/><ellipse class="w" cx="842" cy="1413" rx="20" ry="20"/><ellipse class="w" cx="369" cy="1808" rx="19" ry="20"/><ellipse class="w" cx="272" cy="1882" rx="19" ry="20"/>

<text x="676" y="1220" textLength="17" lengthAdjust="spacingAndGlyphs">C</text>
<text x="1533" y="748" textLength="17" lengthAdjust="spacingAndGlyphs">A</text>
<text x="1183" y="1003" textLength="17" lengthAdjust="spacingAndGlyphs">B</text>
<text x="842" y="1425" textLength="17" lengthAdjust="spacingAndGlyphs">A</text>
<text x="369" y="1820" textLength="17" lengthAdjust="spacingAndGlyphs">B</text>
<text x="272" y="1894" textLength="17" lengthAdjust="spacingAndGlyphs">C</text>
<text x="1412" y="110" textLength="114" lengthAdjust="spacingAndGlyphs">To Frame</text>
<text x="771" y="148" textLength="29" lengthAdjust="spacingAndGlyphs">35</text>
<text x="948" y="154" textLength="29" lengthAdjust="spacingAndGlyphs">37</text>
<text x="913" y="250" textLength="29" lengthAdjust="spacingAndGlyphs">36</text>
<text x="1100" y="354" textLength="29" lengthAdjust="spacingAndGlyphs">34</text>
<text x="1331" y="358" textLength="29" lengthAdjust="spacingAndGlyphs">33</text>
<text x="1420" y="337" textLength="29" lengthAdjust="spacingAndGlyphs">32</text>
<text x="501" y="310" textLength="14" lengthAdjust="spacingAndGlyphs">1</text>
<text x="536" y="330" textLength="14" lengthAdjust="spacingAndGlyphs">2</text>
<text x="619" y="366" textLength="29" lengthAdjust="spacingAndGlyphs">27</text>
<text x="218" y="436" textLength="14" lengthAdjust="spacingAndGlyphs">1</text>
<text x="253" y="453" textLength="14" lengthAdjust="spacingAndGlyphs">2</text>
<text x="325" y="449" textLength="29" lengthAdjust="spacingAndGlyphs">26</text>
<text x="1061" y="740" textLength="29" lengthAdjust="spacingAndGlyphs">27</text>
<text x="1159" y="759" textLength="14" lengthAdjust="spacingAndGlyphs">2</text>
<text x="1189" y="781" textLength="14" lengthAdjust="spacingAndGlyphs">1</text>
<text x="1349" y="834" textLength="29" lengthAdjust="spacingAndGlyphs">28</text>
<text x="729" y="875" textLength="29" lengthAdjust="spacingAndGlyphs">24</text>
<text x="790" y="901" textLength="29" lengthAdjust="spacingAndGlyphs">25</text>
<text x="257" y="1244" textLength="29" lengthAdjust="spacingAndGlyphs">29</text>
<text x="1326" y="992" textLength="29" lengthAdjust="spacingAndGlyphs">20</text>
<text x="1389" y="1014" textLength="29" lengthAdjust="spacingAndGlyphs">21</text>
<text x="1446" y="1041" textLength="29" lengthAdjust="spacingAndGlyphs">20</text>
<text x="1284" y="1135" textLength="29" lengthAdjust="spacingAndGlyphs">31</text>
<text x="1048" y="1154" textLength="29" lengthAdjust="spacingAndGlyphs">17</text>
<text x="1132" y="1162" textLength="29" lengthAdjust="spacingAndGlyphs">19</text>
<text x="1190" y="1191" textLength="29" lengthAdjust="spacingAndGlyphs">30</text>
<text x="1354" y="1277" textLength="29" lengthAdjust="spacingAndGlyphs">30</text>
<text x="1392" y="1293" textLength="29" lengthAdjust="spacingAndGlyphs">19</text>
<text x="1450" y="1331" textLength="29" lengthAdjust="spacingAndGlyphs">18</text>
<text x="1585" y="1357" textLength="29" lengthAdjust="spacingAndGlyphs">16</text>
<text x="1599" y="1427" textLength="29" lengthAdjust="spacingAndGlyphs">17</text>
<text x="992" y="1338" textLength="29" lengthAdjust="spacingAndGlyphs">15</text>
<text x="908" y="1391" textLength="14" lengthAdjust="spacingAndGlyphs">9</text>
<text x="1267" y="1496" textLength="29" lengthAdjust="spacingAndGlyphs">15</text>
<text x="898" y="1576" textLength="14" lengthAdjust="spacingAndGlyphs">9</text>
<text x="969" y="1573" textLength="29" lengthAdjust="spacingAndGlyphs">12</text>
<text x="1210" y="1547" textLength="29" lengthAdjust="spacingAndGlyphs">14</text>
<text x="1012" y="1662" textLength="29" lengthAdjust="spacingAndGlyphs">16</text>
<text x="1112" y="1688" textLength="29" lengthAdjust="spacingAndGlyphs">13</text>
<text x="1193" y="1718" textLength="29" lengthAdjust="spacingAndGlyphs">16</text>
<text x="832" y="1094" textLength="29" lengthAdjust="spacingAndGlyphs">22</text>
<text x="914" y="1130" textLength="29" lengthAdjust="spacingAndGlyphs">23</text>
<text x="975" y="1117" textLength="29" lengthAdjust="spacingAndGlyphs">23</text>
<text x="636" y="1497" textLength="29" lengthAdjust="spacingAndGlyphs">11</text>
<text x="362" y="1576" textLength="14" lengthAdjust="spacingAndGlyphs">9</text>
<text x="60" y="1644" textLength="14" lengthAdjust="spacingAndGlyphs">9</text>
<text x="127" y="1639" textLength="29" lengthAdjust="spacingAndGlyphs">10</text>
<text x="335" y="1735" textLength="29" lengthAdjust="spacingAndGlyphs">10</text>
<text x="442" y="1770" textLength="14" lengthAdjust="spacingAndGlyphs">8</text>
<text x="605" y="1869" textLength="29" lengthAdjust="spacingAndGlyphs">10</text>
<text x="733" y="1884" textLength="14" lengthAdjust="spacingAndGlyphs">6</text>
<text x="816" y="1962" textLength="14" lengthAdjust="spacingAndGlyphs">5</text>
<text x="389" y="1981" textLength="14" lengthAdjust="spacingAndGlyphs">7</text>
<text x="533" y="2026" textLength="14" lengthAdjust="spacingAndGlyphs">9</text>
<text x="585" y="2054" textLength="14" lengthAdjust="spacingAndGlyphs">4</text>
<text x="651" y="2072" textLength="14" lengthAdjust="spacingAndGlyphs">3</text>
<text x="683" y="2058" textLength="14" lengthAdjust="spacingAndGlyphs">2</text>
<text x="713" y="2080" textLength="14" lengthAdjust="spacingAndGlyphs">1</text>
<text x="843" y="2124" textLength="14" lengthAdjust="spacingAndGlyphs">2</text>
<text x="874" y="2145" textLength="14" lengthAdjust="spacingAndGlyphs">1</text>
</svg>
</body></html>
